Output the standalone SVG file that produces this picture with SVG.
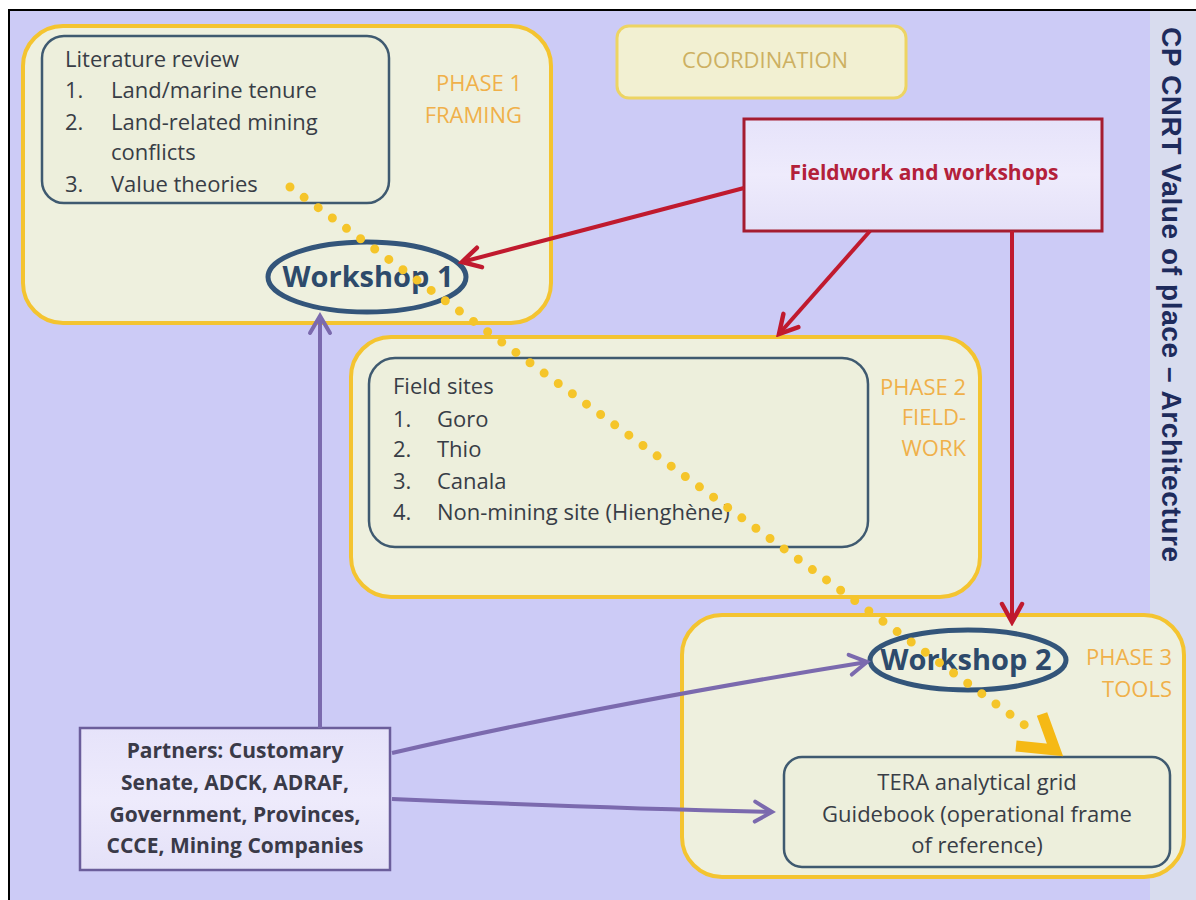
<svg xmlns="http://www.w3.org/2000/svg" width="1196" height="900" viewBox="0 0 1196 900">
<defs>
<style>
.phase{fill:#EEF0DE;stroke:#F4C430;stroke-width:4}
.inner{fill:#EDEFDC;stroke:#3F5A70;stroke-width:2.5}
.body{font-family:"Open Sans","Liberation Sans",sans-serif;font-size:22px;fill:#383D46}
.plabel{font-family:"Open Sans","Liberation Sans",sans-serif;font-size:22px;fill:#F0B04A;text-anchor:end}
.ws{fill:#EEF0DE;stroke:#33557A;stroke-width:5}
.wst{font-family:"Open Sans","Liberation Sans",sans-serif;font-size:29px;font-weight:bold;fill:#2D4A6B;text-anchor:middle}
.red{stroke:#C01A2E;stroke-width:4;fill:none}
.pur{stroke:#7B6AAE;stroke-width:4;fill:none}
</style>
<linearGradient id="lav" x1="0" y1="0" x2="0" y2="1">
<stop offset="0" stop-color="#E6E3FA"/>
<stop offset="0.5" stop-color="#EEEBFC"/>
<stop offset="1" stop-color="#E4E1F8"/>
</linearGradient>
<marker id="ar" viewBox="-22 -14 26 28" markerWidth="26" markerHeight="28" refX="0" refY="0" markerUnits="userSpaceOnUse" orient="auto">
<path d="M-18,-10 L0,0 L-18,10" fill="none" stroke="#C01A2E" stroke-width="4.5" stroke-linecap="round"/>
</marker>
<marker id="ap" viewBox="-22 -14 26 28" markerWidth="26" markerHeight="28" refX="0" refY="0" markerUnits="userSpaceOnUse" orient="auto">
<path d="M-17,-10 L0,0 L-17,10" fill="none" stroke="#7B6AAE" stroke-width="4" stroke-linecap="round"/>
</marker>
</defs>

<rect x="0" y="0" width="1196" height="900" fill="#FFFFFF"/>
<rect x="9" y="10" width="1190" height="895" fill="#CCCBF6" stroke="#000000" stroke-width="2"/>
<rect x="1150" y="11" width="46" height="889" fill="#D8DCEE"/>
<text transform="translate(1162,27) rotate(90)" font-family="'Liberation Sans',Arial,sans-serif" font-size="28" font-weight="bold" fill="#1E2B5C" letter-spacing="0.6">CP CNRT Value of place – Architecture</text>

<g id="phase1">
<rect class="phase" x="23" y="26" width="528" height="297" rx="40"/>
<text class="plabel" x="522" y="91">PHASE 1</text>
<text class="plabel" x="522" y="123">FRAMING</text>
</g>
<g id="literature">
<rect class="inner" x="42" y="36" width="347" height="167" rx="22"/>
<text class="body" x="65" y="67">Literature review</text>
<text class="body" x="65" y="98">1.</text><text class="body" x="111" y="98">Land/marine tenure</text>
<text class="body" x="65" y="130">2.</text><text class="body" x="111" y="130">Land-related mining</text>
<text class="body" x="111" y="160">conflicts</text>
<text class="body" x="65" y="192">3.</text><text class="body" x="111" y="192">Value theories</text>
</g>

<g id="coordination">
<rect x="617" y="26" width="289" height="72" rx="12" fill="#F2F0D2" stroke="#EDD463" stroke-width="3"/>
<text x="765" y="68" font-family="'Open Sans','Liberation Sans',sans-serif" font-size="22" fill="#CDB062" text-anchor="middle">COORDINATION</text>
</g>

<g id="fieldwork">
<rect x="744" y="119" width="358" height="112" fill="url(#lav)" stroke="#A51C30" stroke-width="3"/>
<text x="924" y="180" font-family="'Open Sans','Liberation Sans',sans-serif" font-size="21" font-weight="bold" fill="#B3203A" text-anchor="middle">Fieldwork and workshops</text>
</g>

<g id="phase2">
<rect class="phase" x="351" y="337" width="629" height="260" rx="40"/>
<text class="plabel" x="966" y="395">PHASE 2</text>
<text class="plabel" x="966" y="425">FIELD-</text>
<text class="plabel" x="966" y="456">WORK</text>
</g>
<g id="fieldsites">
<rect class="inner" x="369" y="358" width="499" height="189" rx="26"/>
<text class="body" x="393" y="394">Field sites</text>
<text class="body" x="393" y="427">1.</text><text class="body" x="437" y="427">Goro</text>
<text class="body" x="393" y="457">2.</text><text class="body" x="437" y="457">Thio</text>
<text class="body" x="393" y="489">3.</text><text class="body" x="437" y="489">Canala</text>
<text class="body" x="393" y="520">4.</text><text class="body" x="437" y="520">Non-mining site (Hienghène)</text>
</g>

<g id="phase3">
<rect class="phase" x="682" y="615" width="502" height="262" rx="40"/>
<text class="plabel" x="1172" y="665">PHASE 3</text>
<text class="plabel" x="1172" y="697">TOOLS</text>
</g>
<g id="tera">
<rect class="inner" x="784" y="757" width="386" height="110" rx="18"/>
<text class="body" x="977" y="790" text-anchor="middle">TERA analytical grid</text>
<text class="body" x="977" y="822" text-anchor="middle">Guidebook (operational frame</text>
<text class="body" x="977" y="853" text-anchor="middle">of reference)</text>
</g>

<g id="partners">
<rect x="80" y="728" width="310" height="142" fill="url(#lav)" stroke="#6B5E9B" stroke-width="2.5"/>
<g font-family="'Open Sans','Liberation Sans',sans-serif" font-size="21" font-weight="bold" fill="#3A3A48" text-anchor="middle">
<text x="235" y="758">Partners: Customary</text>
<text x="235" y="790">Senate, ADCK, ADRAF,</text>
<text x="235" y="822">Government, Provinces,</text>
<text x="235" y="853">CCCE, Mining Companies</text>
</g>
</g>

<g id="workshop1">
<ellipse class="ws" cx="367" cy="277" rx="99" ry="35"/>
<text class="wst" x="368" y="287">Workshop 1</text>
</g>
<g id="workshop2">
<ellipse class="ws" cx="968" cy="660" rx="98" ry="30"/>
<text class="wst" x="966" y="670">Workshop 2</text>
</g>

<g id="connectors">
<line x1="290" y1="187" x2="1026" y2="726" stroke="#F5C52A" stroke-width="9" stroke-linecap="round" stroke-dasharray="0 17.5"/>
<path d="M1042,714 L1055,750 L1016,746" fill="none" stroke="#F5B915" stroke-width="11" stroke-linejoin="miter"/>
<line class="red" x1="744" y1="188" x2="462" y2="262" marker-end="url(#ar)"/>
<line class="red" x1="870" y1="231" x2="779" y2="334" marker-end="url(#ar)"/>
<line class="red" x1="1012" y1="231" x2="1012" y2="622" marker-end="url(#ar)"/>
<line class="pur" x1="320" y1="728" x2="320" y2="316" marker-end="url(#ap)"/>
<path class="pur" d="M392,753 Q600,705 867,662" marker-end="url(#ap)"/>
<path class="pur" d="M392,799 Q600,808 772,812" marker-end="url(#ap)"/>
</g>
</svg>
